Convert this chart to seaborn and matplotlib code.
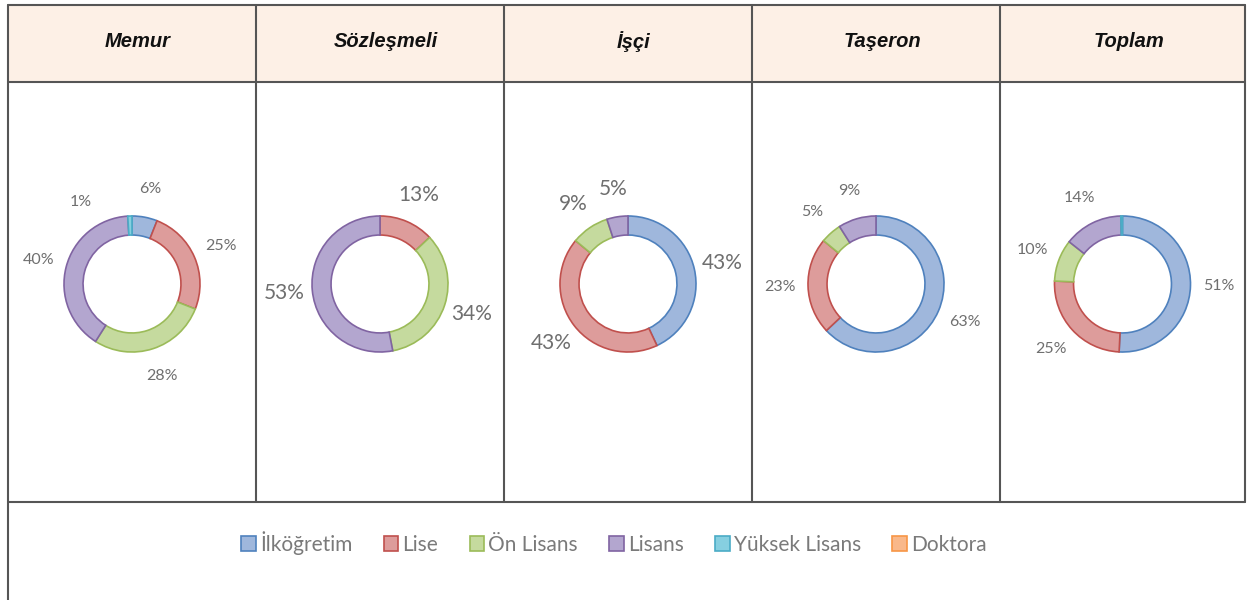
import numpy as np
import matplotlib.pyplot as plt
import seaborn as sns
from matplotlib.patches import Patch, Rectangle

sns.set_theme(style="white")
plt.rcParams['font.family'] = ['Lato', 'DejaVu Sans']

groups = ['Memur', 'Sözleşmeli', 'İşçi', 'Taşeron', 'Toplam']
levels = ['İlköğretim', 'Lise', 'Ön Lisans', 'Lisans', 'Yüksek Lisans', 'Doktora']

memur = [6, 25, 28, 40, 1, 0]
sozlesmeli = [0, 13, 34, 53, 0, 0]
isci = [43, 43, 9, 5, 0, 0]
taseron = [63, 23, 5, 9, 0, 0]
toplam = [51, 25, 10, 14, 0.4, 0]
shares = [memur, sozlesmeli, isci, taseron, toplam]

# label size differs per panel in the original
label_sizes = [11.5, 15, 15, 11.5, 11.5]

fills = ['#9fb7dc', '#dd9c9b', '#c5da9e', '#b3a6cf', '#86cfe0', '#f9b88a']
edges = ['#4f81bd', '#c0504d', '#9bbb59', '#8064a2', '#4bacc6', '#f79646']

W, H = 1247, 600
fig = plt.figure(figsize=(W / 100, H / 100), dpi=100)

# table frame in pixel coordinates
bg = fig.add_axes([0, 0, 1, 1])
bg.set_xlim(0, W)
bg.set_ylim(H, 0)
bg.axis('off')
col_x = [8, 256, 504, 752, 1000, 1245]
top, head_bot, body_bot = 5, 82, 502
bg.add_patch(Rectangle((col_x[0], top), col_x[-1] - col_x[0], head_bot - top,
                       facecolor='#fdf0e6', edgecolor='none'))
lc, lw = '#555555', 1.5
bg.plot([col_x[0], col_x[-1]], [top, top], color=lc, lw=lw)
bg.plot([col_x[0], col_x[-1]], [head_bot, head_bot], color=lc, lw=lw)
bg.plot([col_x[0], col_x[-1]], [body_bot, body_bot], color=lc, lw=lw)
bg.plot([col_x[0], col_x[0]], [top, H], color=lc, lw=lw)
bg.plot([col_x[-1], col_x[-1]], [top, body_bot], color=lc, lw=lw)
for x in col_x[1:-1]:
    bg.plot([x, x], [top, body_bot], color=lc, lw=lw)

for i, g in enumerate(groups):
    cx = (col_x[i] + col_x[i + 1]) / 2 + 6
    bg.text(cx, (top + head_bot) / 2 - 2, g, ha='center', va='center',
            fontsize=14.5, fontweight='bold', fontstyle='italic',
            family=['Liberation Sans', 'DejaVu Sans'], color='#111111')

# donuts
R = 68  # outer radius in px
span = 1.8
cy = 284
for i, vals in enumerate(shares):
    cx = (col_x[i] + col_x[i + 1]) / 2
    size = 2 * span * R
    ax = fig.add_axes([(cx - size / 2) / W, 1 - (cy + size / 2) / H, size / W, size / H])
    keep = [k for k, v in enumerate(vals) if v > 0]
    wedges, _ = ax.pie([vals[k] for k in keep], colors=[fills[k] for k in keep],
                       startangle=90, counterclock=False, radius=1,
                       wedgeprops=dict(width=0.28, linewidth=1.2))
    for w, k in zip(wedges, keep):
        w.set_edgecolor(edges[k])
    total = sum(vals)
    cum = 0
    for v in vals:
        if v >= 1:
            mid = 90 - 360 * (cum + v / 2) / total
            if v < 2:
                mid += 30  # tiny slice: push label aside so it doesn't collide
            r = 1.42
            ax.text(r * np.cos(np.radians(mid)), r * np.sin(np.radians(mid)),
                    f'{v:.0f}%', ha='center', va='center',
                    fontsize=label_sizes[i], color='#6f6f6f')
        cum += v
    ax.set_xlim(-span, span)
    ax.set_ylim(-span, span)
    ax.set_aspect('equal')
    ax.axis('off')

handles = [Patch(facecolor=f, edgecolor=e, linewidth=1.2, label=l)
           for f, e, l in zip(fills, edges, levels)]
fig.legend(handles=handles, loc='center', bbox_to_anchor=(614 / W, 1 - 543 / H),
           ncol=6, frameon=False, fontsize=15, handlelength=0.7, handleheight=0.7,
           handletextpad=0.2, columnspacing=1.5, labelcolor='#7a7a7a')

fig.savefig('out.png', dpi=100)
